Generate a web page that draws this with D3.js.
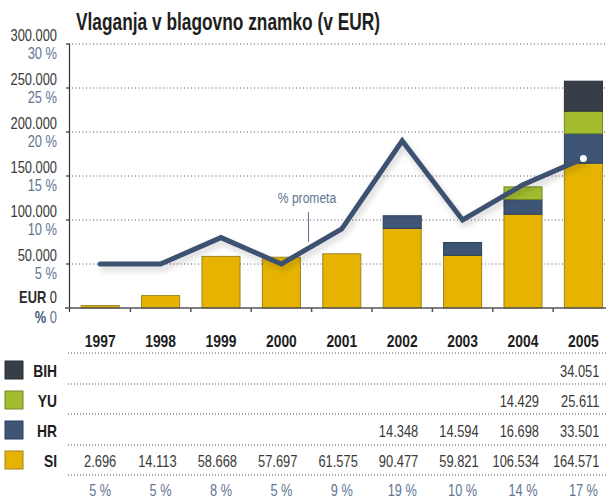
<!DOCTYPE html>
<html>
<head>
<meta charset="utf-8">
<script src="https://cdn.jsdelivr.net/npm/d3@7"></script>
<style>
  body { margin: 0; background: #fff; }
  svg text { font-family: "Liberation Sans", Arial, sans-serif; }
</style>
</head>
<body>
<svg id="chart" width="610" height="499"></svg>
<script>
var years = ["1997", "1998", "1999", "2000", "2001", "2002", "2003", "2004", "2005"];
var seriesNames = ["SI", "HR", "YU", "BIH"];
var si  = [2696, 14113, 58668, 57697, 61575, 90477, 59821, 106534, 164571];
var hr  = [0, 0, 0, 0, 0, 14348, 14594, 16698, 33501];
var yu  = [0, 0, 0, 0, 0, 0, 0, 14429, 25611];
var bih = [0, 0, 0, 0, 0, 0, 0, 0, 34051];
var pct = [5, 5, 8, 5, 9, 19, 10, 14, 17];
var eurTicks = [0, 50000, 100000, 150000, 200000, 250000, 300000];
var colors = { SI: "#e6b400", HR: "#3f5576", YU: "#a3bd2f", BIH: "#373e47" };
var edges  = { SI: "#9c8423", HR: "#2e3f58", YU: "#6f8a2a", BIH: "#2a2f36" };
var pctColor = "#5f7593";

var svg = d3.select("#chart");
var fmt = d3.formatLocale({ decimal: ",", thousands: ".", grouping: [3] }).format(",");

// condensed look: squeeze text horizontally around its anchor point
function squeeze(sel, s) {
  sel.each(function() {
    var t = d3.select(this);
    var tx = +t.attr("x"), ty = +t.attr("y");
    t.attr("x", 0).attr("y", 0)
     .attr("transform", "translate(" + tx + "," + ty + ") scale(" + s + ",1)");
  });
}

var x = d3.scaleBand().domain(years).range([70, 613.6]).paddingInner(0.37).paddingOuter(0.185);
var y = d3.scaleLinear().domain([0, 300000]).range([308, 44]);
var yp = d3.scaleLinear().domain([0, 30]).range([308, 44]);
var cx = d => x(d) + x.bandwidth() / 2;

var rows = years.map((yr, i) => ({ year: yr, SI: si[i], HR: hr[i], YU: yu[i], BIH: bih[i] }));
var stacked = d3.stack().keys(seriesNames)(rows);

// title
svg.append("text")
    .attr("x", 76).attr("y", 30)
    .attr("font-size", 23).attr("font-weight", "bold")
    .attr("fill", "#1e1e1e")
    .attr("textLength", 304).attr("lengthAdjust", "spacingAndGlyphs")
    .text("Vlaganja v blagovno znamko (v EUR)");

// gridlines
svg.append("g").selectAll("line")
    .data(eurTicks.filter(d => d > 0))
  .enter().append("line")
    .attr("x1", 72).attr("x2", 606)
    .attr("y1", d => y(d)).attr("y2", d => y(d))
    .attr("stroke", "#555").attr("stroke-width", 1)
    .attr("stroke-dasharray", "1,2.5");

// y labels
var yl = svg.append("g");
yl.selectAll(".eur")
    .data(eurTicks.filter(d => d > 0))
  .enter().append("text")
    .attr("x", 57).attr("y", d => y(d) - 3)
    .attr("text-anchor", "end").attr("font-size", 16.5).attr("fill", "#3a3a3a")
    .text(d => fmt(d))
    .call(squeeze, 0.78);
yl.selectAll(".pct")
    .data(eurTicks.filter(d => d > 0))
  .enter().append("text")
    .attr("x", 57).attr("y", d => y(d) + 15)
    .attr("text-anchor", "end").attr("font-size", 16.5).attr("fill", pctColor)
    .text(d => (d / 10000) + " %")
    .call(squeeze, 0.78);
var z1 = yl.append("text").attr("x", 57).attr("y", y(0) - 5)
    .attr("text-anchor", "end").attr("font-size", 16.5).attr("fill", "#2a2a2a");
z1.append("tspan").attr("font-weight", "bold").text("EUR ");
z1.append("tspan").text("0");
z1.call(squeeze, 0.78);
var z2 = yl.append("text").attr("x", 57).attr("y", y(0) + 15)
    .attr("text-anchor", "end").attr("font-size", 16.5).attr("fill", pctColor);
z2.append("tspan").attr("font-weight", "bold").attr("fill", "#3f5576").text("% ");
z2.append("tspan").text("0");
z2.call(squeeze, 0.78);

// bars
svg.append("g").selectAll("g")
    .data(stacked)
  .enter().append("g")
    .attr("fill", d => colors[d.key])
    .attr("stroke", d => edges[d.key])
    .attr("stroke-width", 1)
  .selectAll("rect")
    .data(d => d.filter(p => p[1] > p[0]))
  .enter().append("rect")
    .attr("x", d => x(d.data.year))
    .attr("width", x.bandwidth())
    .attr("y", d => y(d[1]))
    .attr("height", d => y(d[0]) - y(d[1]));

// axes
svg.append("line").attr("x1", 69.5).attr("x2", 69.5).attr("y1", 44).attr("y2", 312)
    .attr("stroke", "#333").attr("stroke-width", 1.2);
svg.append("g").selectAll("line")
    .data(eurTicks.filter(d => d > 0))
  .enter().append("line")
    .attr("x1", 66).attr("x2", 70).attr("y1", d => y(d)).attr("y2", d => y(d))
    .attr("stroke", "#333").attr("stroke-width", 1.2);
svg.append("line").attr("x1", 65).attr("x2", 606).attr("y1", y(0)).attr("y2", y(0))
    .attr("stroke", "#555").attr("stroke-width", 1.5);
svg.append("g").selectAll("line")
    .data(years.slice(1))
  .enter().append("line")
    .attr("x1", d => x(d) - x.step() * x.paddingInner() / 2)
    .attr("x2", d => x(d) - x.step() * x.paddingInner() / 2)
    .attr("y1", y(0)).attr("y2", y(0) + 4)
    .attr("stroke", "#555").attr("stroke-width", 1.5);

// line with shadow
var defs = svg.append("defs");
var f = defs.append("filter").attr("id", "shadow").attr("x", "-10%").attr("y", "-20%")
    .attr("width", "130%").attr("height", "150%");
f.append("feDropShadow").attr("dx", 2).attr("dy", 4).attr("stdDeviation", 3)
    .attr("flood-color", "#000").attr("flood-opacity", 0.18);

var line = d3.line()
    .x((d, i) => cx(years[i]))
    .y(d => yp(d));
svg.append("path")
    .datum(pct)
    .attr("d", line)
    .attr("fill", "none")
    .attr("stroke", "#3d5171").attr("stroke-width", 5)
    .attr("stroke-linecap", "round").attr("stroke-linejoin", "miter")
    .attr("filter", "url(#shadow)");
svg.append("circle")
    .attr("cx", cx("2005"))
    .attr("cy", yp(pct[8]))
    .attr("r", 3.5).attr("fill", "#fff");

// annotation
svg.append("line").attr("x1", 308.5).attr("x2", 308.5).attr("y1", 212).attr("y2", 242)
    .attr("stroke", pctColor).attr("stroke-width", 1);
svg.append("text").attr("x", 307).attr("y", 203)
    .attr("text-anchor", "middle").attr("font-size", 15.5).attr("fill", pctColor)
    .text("% prometa")
    .call(squeeze, 0.78);

// year labels
svg.append("g").selectAll("text")
    .data(years)
  .enter().append("text")
    .attr("x", d => cx(d))
    .attr("y", 347)
    .attr("text-anchor", "middle").attr("font-size", 16.5).attr("font-weight", "bold")
    .attr("fill", "#1e1e1e")
    .text(d => d)
    .call(squeeze, 0.84);

// table
var rowY = { BIH: 377, YU: 407, HR: 437, SI: 467 };
var sep = [353, 384, 414, 445, 475];
svg.append("g").selectAll("line")
    .data(sep)
  .enter().append("line")
    .attr("x1", 68).attr("x2", 606)
    .attr("y1", d => d).attr("y2", d => d)
    .attr("stroke", "#555").attr("stroke-dasharray", "1,2");

var tableData = { SI: si, HR: hr, YU: yu, BIH: bih };
seriesNames.forEach(name => {
  var g = svg.append("g");
  g.append("rect")
      .attr("x", 5).attr("y", rowY[name] - 16)
      .attr("width", 18).attr("height", 18)
      .attr("fill", colors[name]).attr("stroke", edges[name]);
  g.append("text")
      .attr("x", 57).attr("y", rowY[name])
      .attr("text-anchor", "end").attr("font-size", 16.5).attr("font-weight", "bold")
      .attr("fill", "#1e1e1e")
      .text(name)
      .call(squeeze, 0.84);
  g.selectAll(".v")
      .data(tableData[name].map((v, i) => ({ v: v, year: years[i] })).filter(d => d.v > 0))
    .enter().append("text")
      .attr("x", d => cx(d.year) + 16)
      .attr("y", rowY[name])
      .attr("text-anchor", "end").attr("font-size", 16.5).attr("fill", "#3a3a3a")
      .text(d => fmt(d.v))
      .call(squeeze, 0.78);
});

svg.append("g").selectAll("text")
    .data(pct)
  .enter().append("text")
    .attr("x", (d, i) => cx(years[i]))
    .attr("y", 496)
    .attr("text-anchor", "middle").attr("font-size", 17).attr("fill", pctColor)
    .text(d => d + " %")
    .call(squeeze, 0.75);
</script>
</body>
</html>
